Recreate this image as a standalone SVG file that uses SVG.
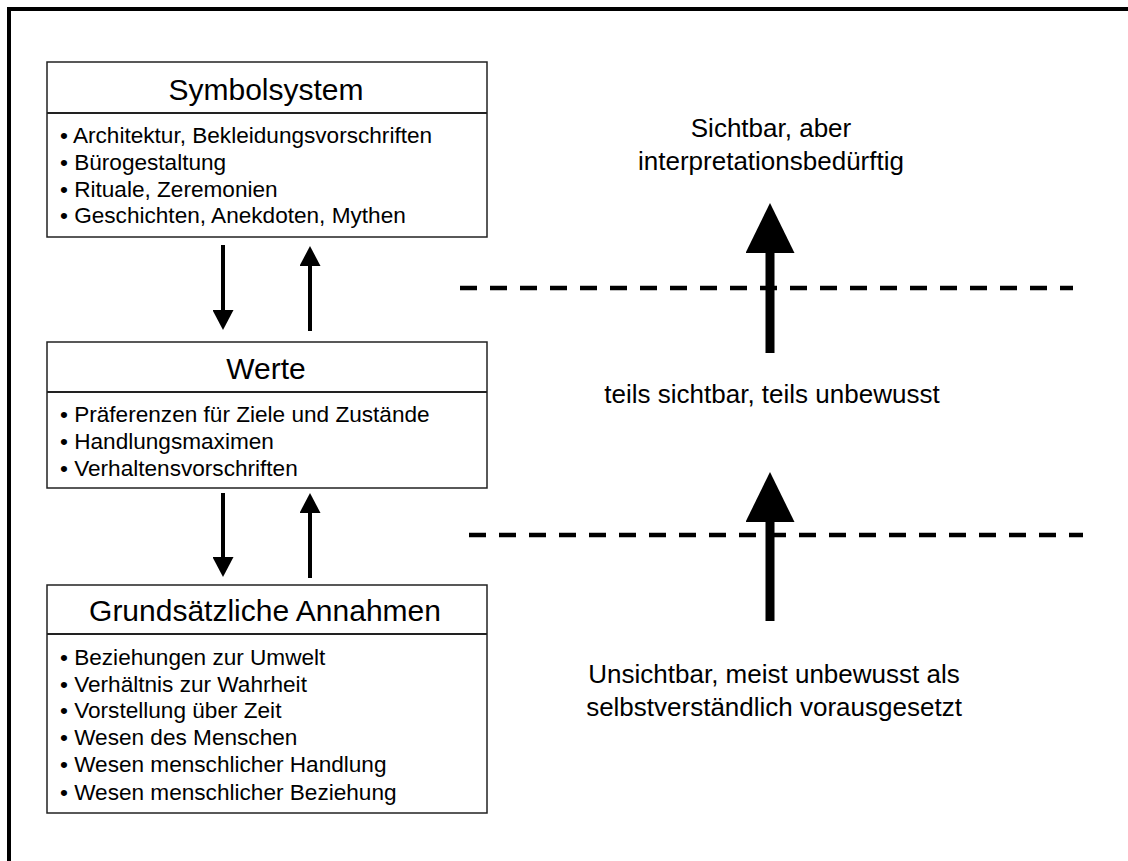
<svg xmlns="http://www.w3.org/2000/svg" width="1128" height="861" viewBox="0 0 1128 861">
  <style>
    text { font-family: "Liberation Sans", Arial, sans-serif; fill: #000; }
    .title { font-size: 30px; text-anchor: middle; }
    .item { font-size: 22.6px; }
    .note { font-size: 26px; text-anchor: middle; }
    .box { fill: #fff; stroke: #222; stroke-width: 1.5; }
    .divider { stroke: #222; stroke-width: 2; }
    .link { stroke: #000; stroke-width: 4; fill: none; marker-end: url(#head-small); }
    .level { stroke: #000; stroke-width: 9; fill: none; marker-end: url(#head-big); }
    .boundary { stroke: #000; stroke-width: 4.5; stroke-dasharray: 17 13; fill: none; }
  </style>
  <defs>
    <marker id="head-small" markerUnits="userSpaceOnUse" viewBox="0 0 20 21" markerWidth="20" markerHeight="21" refX="14" refY="10.5" orient="auto">
      <path d="M0,0 L20,10.5 L0,21 Z" fill="#000"/>
    </marker>
    <marker id="head-big" markerUnits="userSpaceOnUse" viewBox="0 0 50 49" markerWidth="50" markerHeight="49" refX="40" refY="24.5" orient="auto">
      <path d="M0,0 L50,24.5 L0,49 Z" fill="#000"/>
    </marker>
  </defs>

  <rect width="1128" height="861" fill="#fff"/>

  <!-- outer frame (only top and left edges fall inside the page) -->
  <path d="M9,861 V9 H1128" stroke="#000" stroke-width="4" fill="none"/>

  <g id="symbolsystem">
    <rect class="box" x="47" y="62" width="440" height="175"/>
    <line class="divider" x1="47" y1="113" x2="487" y2="113"/>
    <text class="title" x="266" y="100">Symbolsystem</text>
    <text class="item" x="60" y="143">• Architektur, Bekleidungsvorschriften</text>
    <text class="item" x="60" y="170">• Bürogestaltung</text>
    <text class="item" x="60" y="197">• Rituale, Zeremonien</text>
    <text class="item" x="60" y="223">• Geschichten, Anekdoten, Mythen</text>
  </g>

  <g id="werte">
    <rect class="box" x="47" y="342" width="440" height="146"/>
    <line class="divider" x1="47" y1="392" x2="487" y2="392"/>
    <text class="title" x="266" y="379">Werte</text>
    <text class="item" x="60" y="422">• Präferenzen für Ziele und Zustände</text>
    <text class="item" x="60" y="449">• Handlungsmaximen</text>
    <text class="item" x="60" y="476">• Verhaltensvorschriften</text>
  </g>

  <g id="annahmen">
    <rect class="box" x="47" y="585" width="440" height="228"/>
    <line class="divider" x1="47" y1="634" x2="487" y2="634"/>
    <text class="title" x="265" y="621">Grundsätzliche Annahmen</text>
    <text class="item" x="60" y="665">• Beziehungen zur Umwelt</text>
    <text class="item" x="60" y="692">• Verhältnis zur Wahrheit</text>
    <text class="item" x="60" y="718">• Vorstellung über Zeit</text>
    <text class="item" x="60" y="745">• Wesen des Menschen</text>
    <text class="item" x="60" y="772">• Wesen menschlicher Handlung</text>
    <text class="item" x="60" y="800">• Wesen menschlicher Beziehung</text>
  </g>

  <g id="connectors">
    <line class="link" x1="223" y1="245" x2="223" y2="324"/>
    <line class="link" x1="310" y1="331" x2="310" y2="252"/>
    <line class="link" x1="223" y1="493" x2="223" y2="571"/>
    <line class="link" x1="310" y1="578" x2="310" y2="499"/>
  </g>

  <g id="boundaries">
    <line class="boundary" x1="460" y1="288" x2="1073" y2="288"/>
    <line class="boundary" x1="469" y1="535" x2="1083" y2="535"/>
  </g>

  <g id="visibility-arrows">
    <line class="level" x1="770" y1="353" x2="770" y2="213"/>
    <line class="level" x1="770" y1="621" x2="770" y2="482"/>
  </g>

  <g id="level-labels">
    <text class="note" x="771" y="137">Sichtbar, aber</text>
    <text class="note" x="771" y="170">interpretationsbedürftig</text>
    <text class="note" x="772" y="403">teils sichtbar, teils unbewusst</text>
    <text class="note" x="774" y="683">Unsichtbar, meist unbewusst als</text>
    <text class="note" x="774" y="716">selbstverständlich vorausgesetzt</text>
  </g>
</svg>
